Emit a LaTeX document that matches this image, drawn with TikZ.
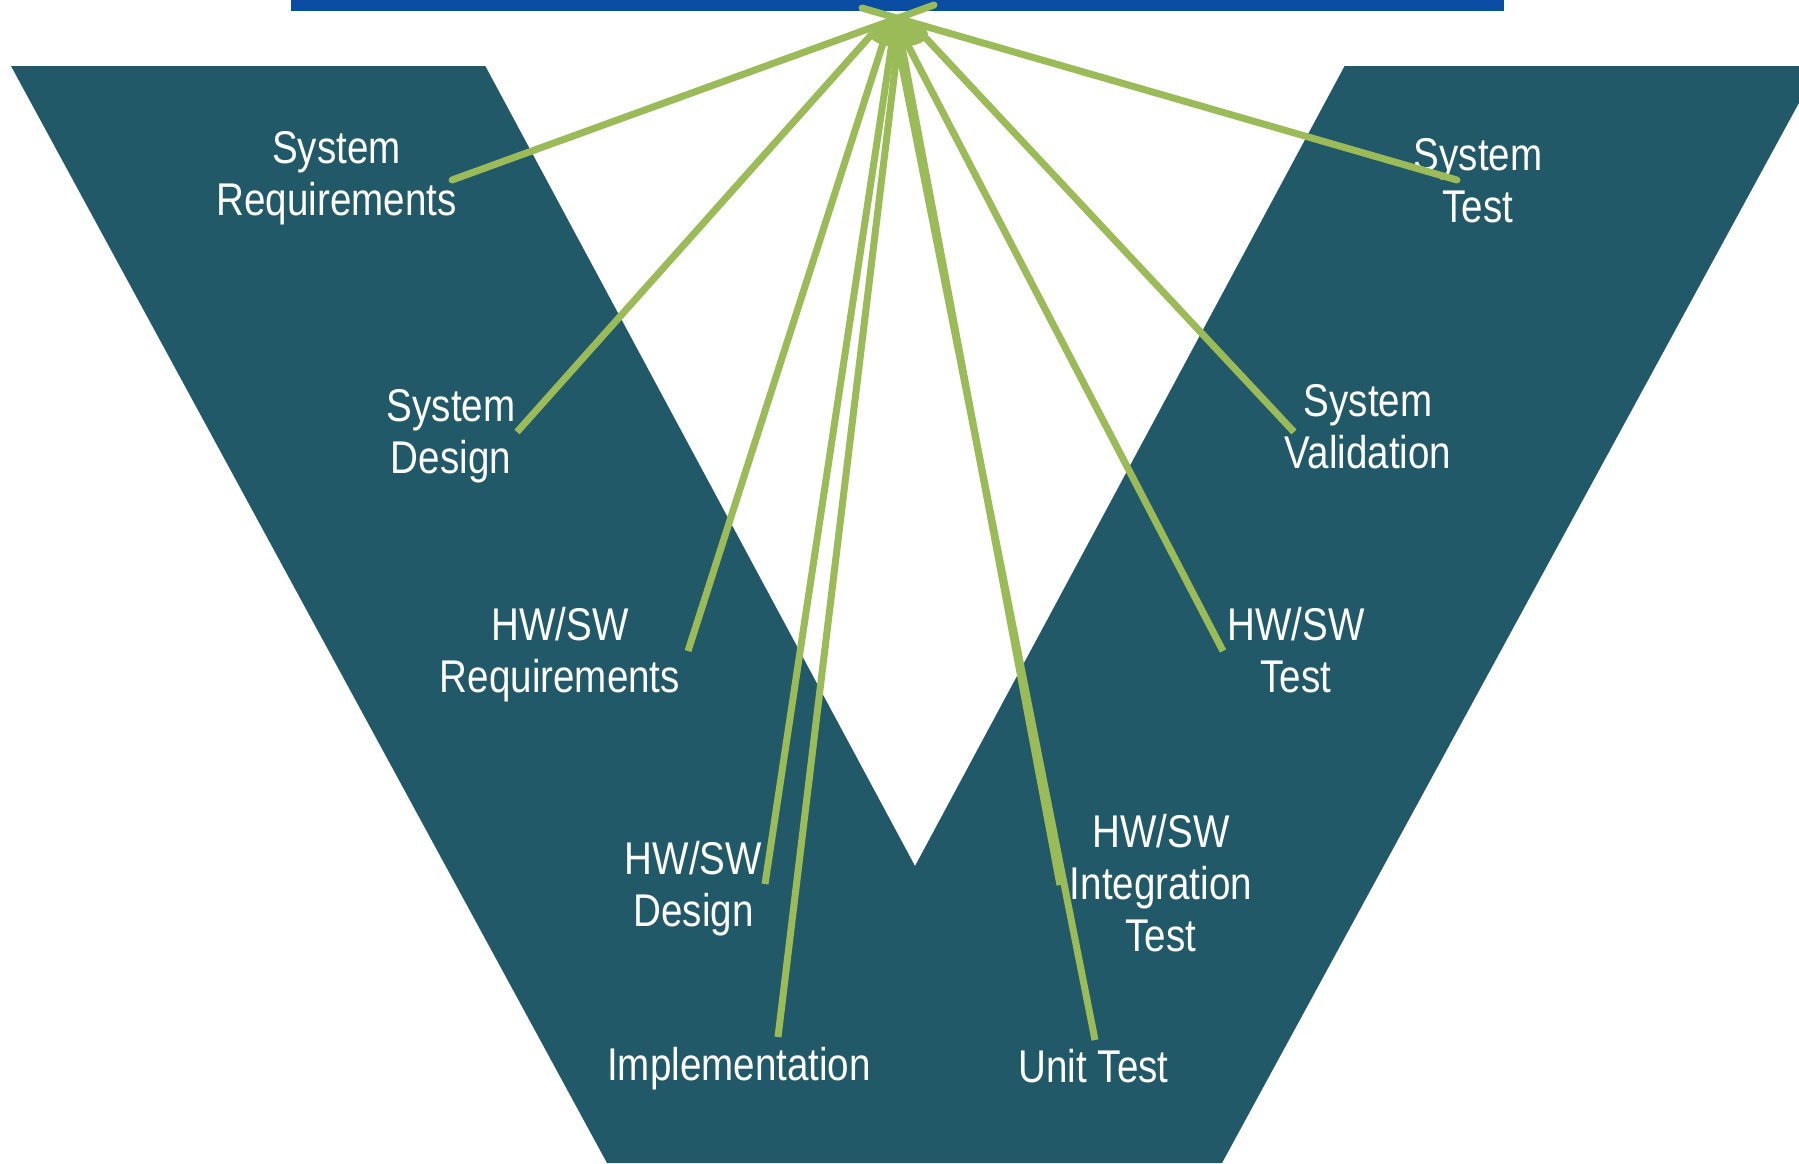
\documentclass[tikz,border=0pt]{standalone}
\usepackage{fontspec}
\usetikzlibrary{shapes.geometric}
\newfontfamily\vfont[FakeStretch=0.84]{Liberation Sans}
\definecolor{vteal}{HTML}{215968}
\definecolor{vgreen}{HTML}{9BBB59}
\definecolor{vblue}{HTML}{0B4DA2}
\newcommand{\vlbl}[1]{\begin{tabular}[t]{@{}c@{}}#1\end{tabular}}
\begin{document}
\begin{tikzpicture}[x=1pt,y=-1pt,
  lbl/.style={anchor=base, inner sep=0pt, text=white, font=\vfont\fontsize{45.9}{52}\selectfont},
  link/.style={draw=vgreen, line width=7pt},
  tiplink/.style={draw=vgreen, line width=7pt, line cap=round}]
\useasboundingbox (0,0) rectangle (1799,1163);
\clip (0,0) rectangle (1799,1163);
\fill[white] (0,0) rectangle (1799,1163);
% top bar
\fill[vblue] (291,0) rectangle (1504,10.7);
% the V
\fill[vteal] (11,66) -- (485.3,66) -- (915,866) -- (1344.6,66) -- (1819,66)
  -- (1222,1163) -- (607,1163) -- cycle;
% labels
\node[lbl] (sysreq) at (336.5,163.3) {\vlbl{System\\Requirements}};
\node[lbl] (sysdes) at (451,421.7) {\vlbl{System\\Design}};
\node[lbl] (hwreq)  at (560,640)   {\vlbl{HW/SW\\Requirements}};
\node[lbl] (hwdes)  at (693.5,874) {\vlbl{HW/SW\\Design}};
\node[lbl] (impl)   at (739,1080)  {Implementation};
\node[lbl] (unit)   at (1093.5,1082.7) {Unit Test};
\node[lbl] (integ)  at (1161,847.5) {\vlbl{HW/SW\\Integration\\Test}};
\node[lbl] (hwtest) at (1296,640.7) {\vlbl{HW/SW\\Test}};
\node[lbl] (sysval) at (1368,416.7) {\vlbl{System\\Validation}};
\node[lbl] (systest) at (1478,170) {\vlbl{System\\Test}};
% connector ends
\coordinate (e-sysreq) at (452,180);
\coordinate (e-sysdes) at (517,432);
\coordinate (e-hwreq) at (688,651);
\coordinate (e-hwdes) at (765,884);
\coordinate (e-impl) at (778,1037);
\coordinate (e-unit) at (1095,1040);
\coordinate (e-integ) at (1060,885);
\coordinate (e-hwtest) at (1223,651);
\coordinate (e-sysval) at (1294,432);
\coordinate (e-systest) at (1457,180);
% hub points
\coordinate (tipL) at (862,8);
\coordinate (tipR) at (934,5);
\coordinate (h-sysdes) at (872,34);
\coordinate (h-hwreq) at (886,34);
\coordinate (h-hwdes) at (893,36);
\coordinate (h-impl) at (899,36);
\coordinate (h-unit) at (896,36);
\coordinate (h-integ) at (900,36);
\coordinate (h-hwtest) at (902,34);
\coordinate (h-sysval) at (922,34);
% connectors
\draw[tiplink] (e-sysreq) -- (tipR);
\draw[tiplink] (e-systest) -- (tipL);
\draw[link] (e-sysdes) -- (h-sysdes);
\draw[link] (e-hwreq) -- (h-hwreq);
\draw[link] (e-hwdes) -- (h-hwdes);
\draw[link] (e-impl) -- (h-impl);
\draw[link] (e-unit) -- (h-unit);
\draw[link] (e-integ) -- (h-integ);
\draw[link] (e-hwtest) -- (h-hwtest);
\draw[link] (e-sysval) -- (h-sysval);
% hub
\node[ellipse, fill=vgreen, inner sep=0pt, minimum width=58pt, minimum height=25pt] (hub) at (899,34.5) {};
\end{tikzpicture}
\end{document}
